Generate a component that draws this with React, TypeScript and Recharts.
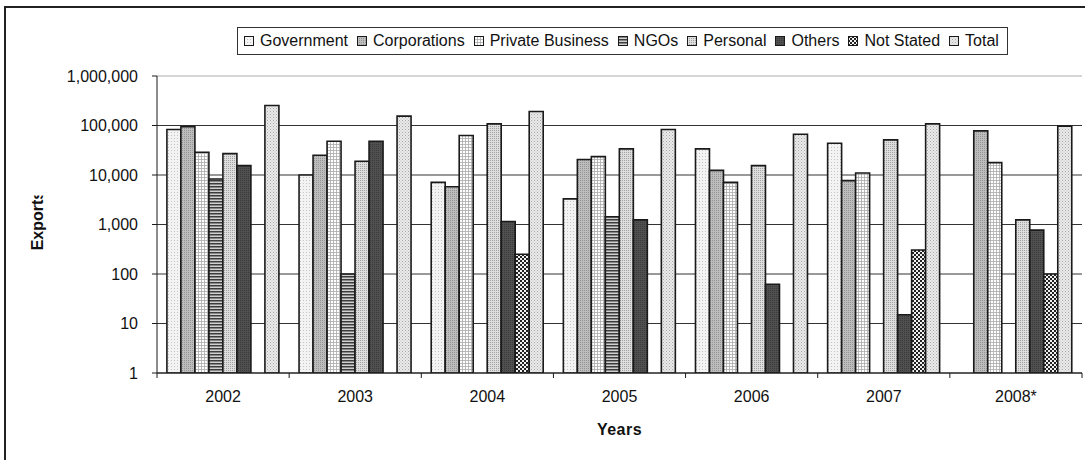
import React from 'react';
import { BarChart, Bar, XAxis, YAxis, CartesianGrid, Legend, Label, ReferenceLine } from 'recharts';

const YEARS = ['2002', '2003', '2004', '2005', '2006', '2007', '2008*'];
const GOVERNMENT = [83000, 10000, 7100, 3300, 33700, 43800, null];
const CORPORATIONS = [95000, 25000, 5800, 20500, 12400, 7700, 78000];
const PRIVATE_BUSINESS = [28800, 48000, 62700, 23500, 7100, 11000, 17800];
const NGOS = [8300, 100, null, 1430, null, null, null];
const PERSONAL = [27000, 18900, 108000, 33700, 15500, 51200, 1240];
const OTHERS = [15500, 48000, 1150, 1240, 62, 15, 770];
const NOT_STATED = [null, null, 250, null, null, 306, 100];
const TOTAL = [254000, 155000, 192000, 83000, 66700, 108000, 97000];
const Y_TICKS = [1, 10, 100, 1000, 10000, 100000, 1000000];

const SERIES = [
  { key: 'gov', name: 'Government', values: GOVERNMENT, pattern: 'pGov' },
  { key: 'corp', name: 'Corporations', values: CORPORATIONS, pattern: 'pCorp' },
  { key: 'priv', name: 'Private Business', values: PRIVATE_BUSINESS, pattern: 'pPriv' },
  { key: 'ngo', name: 'NGOs', values: NGOS, pattern: 'pNgo' },
  { key: 'pers', name: 'Personal', values: PERSONAL, pattern: 'pPers' },
  { key: 'oth', name: 'Others', values: OTHERS, pattern: 'pOth' },
  { key: 'ns', name: 'Not Stated', values: NOT_STATED, pattern: 'pNs' },
  { key: 'tot', name: 'Total', values: TOTAL, pattern: 'pTot' },
];

const data = YEARS.map((year, i) => {
  const row: any = { year };
  SERIES.forEach((s) => {
    row[s.key] = s.values[i];
  });
  return row;
});

const FONT = '"Liberation Sans", Arial, sans-serif';
const W = 1085;
const H = 460;
const LEGEND_H = 28;
const MARGIN = { top: 76, right: 3, bottom: 0, left: 0 };
const Y_AXIS_W = 157;
const X_AXIS_H = 87 - LEGEND_H;
const BAND = (W - MARGIN.left - MARGIN.right - Y_AXIS_W) / YEARS.length;
const TICK_SIZE = 5;
const TICK_MARGIN = 13;
const STROKE = '#1a1a1a';

const patternByKey: Record<string, string> = {};
const orderByKey: Record<string, number> = {};
SERIES.forEach((s, i) => {
  patternByKey[s.key] = s.pattern;
  orderByKey[s.key] = i;
});

function XTick(props: any) {
  const { x, y, payload, index } = props;
  const axisY = y - TICK_SIZE - TICK_MARGIN;
  const left = x - BAND / 2;
  const right = x + BAND / 2;
  return (
    <g>
      <line x1={left} x2={left} y1={axisY} y2={axisY + TICK_SIZE} stroke={STROKE} strokeWidth={1} />
      {index === YEARS.length - 1 && (
        <line x1={right} x2={right} y1={axisY} y2={axisY + TICK_SIZE} stroke={STROKE} strokeWidth={1} />
      )}
      <text x={x} y={y} dy="0.71em" textAnchor="middle" fill="#111" fontSize={16} fontFamily={FONT}>
        {payload.value}
      </text>
    </g>
  );
}

function YLabel(props: any) {
  const { viewBox } = props;
  const cx = viewBox.x + 37;
  const cy = viewBox.y + viewBox.height / 2 - 4;
  return (
    <g>
      <defs>
        <clipPath id="yLabelClip">
          <rect x={cx - 15} y={cy - 25} width={30} height={80} />
        </clipPath>
      </defs>
      <g clipPath="url(#yLabelClip)">
        <text
          x={cx}
          y={cy}
          transform={`rotate(-90 ${cx} ${cy})`}
          textAnchor="middle"
          dominantBaseline="central"
          fontSize={16}
          fontWeight="bold"
          fontFamily={FONT}
          fill="#111"
        >
          Exports
        </text>
      </g>
    </g>
  );
}

function XLabel(props: any) {
  const { viewBox } = props;
  return (
    <text
      x={viewBox.x + viewBox.width / 2}
      y={viewBox.y + 56}
      textAnchor="middle"
      dominantBaseline="central"
      fontSize={16}
      fontWeight="bold"
      fontFamily={FONT}
      fill="#111"
      letterSpacing={0.5}
    >
      Years
    </text>
  );
}

function LegendContent(props: any) {
  const items = [...(props.payload || [])].sort(
    (a: any, b: any) => orderByKey[a.dataKey] - orderByKey[b.dataKey]
  );
  return (
    <div
      style={{
        display: 'inline-flex',
        alignItems: 'center',
        height: LEGEND_H,
        padding: '0 8px 0 6px',
        border: '1px solid #333',
        background: '#fff',
        fontFamily: FONT,
        fontSize: 16,
        color: '#111',
        whiteSpace: 'nowrap',
        boxSizing: 'border-box',
      }}
    >
      {items.map((entry: any, i: number) => (
        <span
          key={entry.value}
          style={{ display: 'inline-flex', alignItems: 'center', marginRight: i === items.length - 1 ? 0 : 9 }}
        >
          <svg width={10} height={10} style={{ marginRight: 6 }}>
            <rect
              x={0.5}
              y={0.5}
              width={9}
              height={9}
              fill={`url(#${patternByKey[entry.dataKey]})`}
              stroke={STROKE}
              strokeWidth={1}
            />
          </svg>
          {entry.value}
        </span>
      ))}
    </div>
  );
}

function Patterns() {
  return (
    <defs>
      <pattern id="pGov" width={3} height={3} patternUnits="userSpaceOnUse">
        <rect width={3} height={3} fill="#f3f3f3" />
        <rect x={0} y={0} width={1} height={1} fill="#c4c4c4" />
      </pattern>
      <pattern id="pCorp" width={2} height={2} patternUnits="userSpaceOnUse">
        <rect width={2} height={2} fill="#bdbdbd" />
        <rect x={0} y={0} width={1} height={1} fill="#949494" />
      </pattern>
      <pattern id="pPriv" width={3} height={3} patternUnits="userSpaceOnUse">
        <rect width={3} height={3} fill="#ffffff" />
        <rect x={0} y={0} width={3} height={0.8} fill="#aaaaaa" />
        <rect x={0} y={0} width={0.8} height={3} fill="#aaaaaa" />
      </pattern>
      <pattern id="pNgo" width={3} height={3} patternUnits="userSpaceOnUse">
        <rect width={3} height={3} fill="#d0d0d0" />
        <rect x={0} y={0} width={3} height={1.5} fill="#3c3c3c" />
      </pattern>
      <pattern id="pPers" width={2} height={2} patternUnits="userSpaceOnUse">
        <rect width={2} height={2} fill="#dedede" />
        <rect x={0} y={0} width={1} height={1} fill="#a2a2a2" />
      </pattern>
      <pattern id="pOth" width={2} height={2} patternUnits="userSpaceOnUse">
        <rect width={2} height={2} fill="#505050" />
        <rect x={0} y={0} width={1} height={1} fill="#3a3a3a" />
      </pattern>
      <pattern id="pNs" width={4} height={4} patternUnits="userSpaceOnUse">
        <rect width={4} height={4} fill="#f0f0f0" />
        <rect x={0} y={0} width={2} height={2} fill="#222" />
        <rect x={2} y={2} width={2} height={2} fill="#222" />
      </pattern>
      <pattern id="pTot" width={3} height={3} patternUnits="userSpaceOnUse">
        <rect width={3} height={3} fill="#eaeaea" />
        <rect x={0} y={0} width={1} height={1} fill="#a8a8a8" />
        <rect x={1.5} y={1.5} width={1} height={1} fill="#bdbdbd" />
      </pattern>
    </defs>
  );
}

export default function App() {
  return (
    <div
      style={{
        position: 'fixed',
        left: 0,
        top: 0,
        width: W,
        height: H,
        overflow: 'hidden',
        background: '#fff',
      }}
    >
      <div
        style={{
          position: 'absolute',
          left: 4,
          top: 6,
          width: 1100,
          height: 480,
          border: '2px solid #222',
          boxSizing: 'border-box',
        }}
      />
      <div style={{ position: 'absolute', left: 0, top: 0 }}>
        <BarChart
          width={W}
          height={H}
          data={data}
          margin={MARGIN}
          barCategoryGap="7.5%"
          barGap={0}
          baseValue="dataMin"
        >
          <Patterns />
          <CartesianGrid vertical={false} stroke="#333" strokeWidth={1} />
          <ReferenceLine y={1000000} stroke="#d6d6d6" strokeWidth={2} />
          <XAxis
            dataKey="year"
            height={X_AXIS_H}
            tick={<XTick />}
            tickLine={false}
            tickSize={TICK_SIZE}
            tickMargin={TICK_MARGIN}
            axisLine={{ stroke: STROKE, strokeWidth: 1 }}
            interval={0}
            label={<Label content={XLabel} />}
          />
          <YAxis
            type="number"
            scale="log"
            domain={[1, 1000000]}
            ticks={Y_TICKS}
            allowDataOverflow
            width={Y_AXIS_W}
            tickSize={TICK_SIZE}
            tickMargin={14}
            tickLine={{ stroke: STROKE }}
            axisLine={{ stroke: STROKE, strokeWidth: 1 }}
            tick={{ fill: '#111', fontSize: 16, fontFamily: FONT }}
            tickFormatter={(v: number) => v.toLocaleString('en-US')}
            interval={0}
            label={<Label content={YLabel} />}
          />
          <Legend
            content={<LegendContent />}
            wrapperStyle={{ position: 'absolute', left: 237, top: 27, width: 'auto', height: LEGEND_H }}
          />
          {SERIES.map((s) => (
            <Bar
              key={s.key}
              dataKey={s.key}
              name={s.name}
              fill={`url(#${s.pattern})`}
              stroke={STROKE}
              strokeWidth={1.6}
              isAnimationActive={false}
            />
          ))}
        </BarChart>
      </div>
    </div>
  );
}
